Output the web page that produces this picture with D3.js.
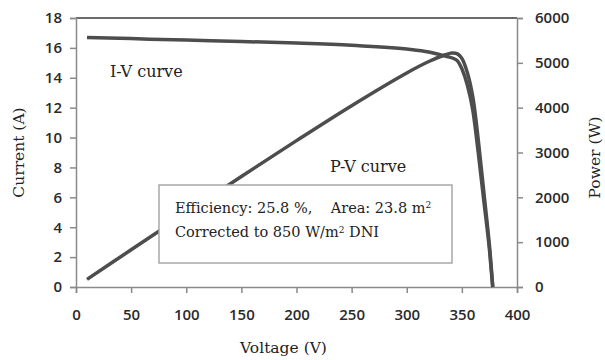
<!DOCTYPE html>
<html>
<head>
<meta charset="utf-8">
<script src="https://cdn.jsdelivr.net/npm/d3@7"></script>
<style>
  body { margin: 0; background: #fff; }
  .tick text { font-family: "Open Sans", sans-serif; font-weight: 600; font-size: 15px; fill: #2a2a2a; }
  .serif { font-family: "DejaVu Serif", serif; fill: #222; white-space: pre; }
</style>
</head>
<body>
<div id="chart"></div>
<script>
var svgWidth = 605;
var svgHeight = 360;

var margin = { top: 18, right: 88, bottom: 73, left: 76 };

var width = svgWidth - margin.left - margin.right;
var height = svgHeight - margin.top - margin.bottom;

// values
var ivVoltage = [10, 50, 100, 150, 200, 250, 300, 320, 335, 345, 350, 355, 360, 365, 370, 375, 378];
var ivCurrent = [16.7, 16.62, 16.52, 16.43, 16.32, 16.17, 15.92, 15.72, 15.45, 15.2, 14.6, 13.5, 11.8, 8.9, 5.7, 2.5, 0];

var pvVoltage = [10, 50, 100, 150, 200, 250, 300, 320, 335, 341, 346, 350, 355, 360, 365, 370, 375, 378];
var pvPower = [170, 830, 1650, 2465, 3265, 4045, 4775, 5030, 5180, 5220, 5200, 5100, 4780, 4230, 3250, 2100, 930, 0];

var xTicks = [0, 50, 100, 150, 200, 250, 300, 350, 400];
var leftTicks = [0, 2, 4, 6, 8, 10, 12, 14, 16, 18];
var rightTicks = [0, 1000, 2000, 3000, 4000, 5000, 6000];

var svg = d3.select("#chart")
  .append("svg")
  .attr("width", svgWidth)
  .attr("height", svgHeight);

var chartGroup = svg.append("g")
  .attr("transform", `translate(${margin.left}, ${margin.top})`);

var xScale = d3.scaleLinear().domain([0, 400]).range([0, width]);
var yLeft = d3.scaleLinear().domain([0, 18]).range([height, 0]);
var yRight = d3.scaleLinear().domain([0, 6000]).range([height, 0]);

var axisColor = "#8a8a8a";

// top border
chartGroup.append("line")
  .attr("x1", 0).attr("x2", width)
  .attr("y1", 0).attr("y2", 0)
  .attr("stroke", "#3a3a3a")
  .attr("stroke-width", 1.5);

// axes
var bottomAxis = d3.axisBottom(xScale).tickValues(xTicks).tickSize(6).tickPadding(16);
var leftAxis = d3.axisLeft(yLeft).tickValues(leftTicks).tickSize(6).tickPadding(8);
var rightAxis = d3.axisRight(yRight).tickValues(rightTicks).tickSize(6).tickPadding(12)
  .tickFormat(d3.format("d"));

function styleAxis(g) {
  g.select(".domain").attr("stroke", axisColor).attr("stroke-width", 1.5);
  g.selectAll(".tick line").attr("stroke", axisColor).attr("stroke-width", 1.5);
}

chartGroup.append("g")
  .attr("transform", `translate(0, ${height})`)
  .call(bottomAxis)
  .call(styleAxis);

chartGroup.append("g")
  .call(leftAxis)
  .call(styleAxis);

chartGroup.append("g")
  .attr("transform", `translate(${width}, 0)`)
  .call(rightAxis)
  .call(styleAxis);

// curves
var ivLine = d3.line()
  .x((d, i) => xScale(ivVoltage[i]))
  .y(d => yLeft(d))
  .curve(d3.curveMonotoneX);

var pvLine = d3.line()
  .x((d, i) => xScale(pvVoltage[i]))
  .y(d => yRight(d))
  .curve(d3.curveCatmullRom);

chartGroup.append("path")
  .datum(ivCurrent)
  .attr("d", ivLine)
  .attr("fill", "none")
  .attr("stroke", "#4d4d4d")
  .attr("stroke-width", 3.5);

chartGroup.append("path")
  .datum(pvPower)
  .attr("d", pvLine)
  .attr("fill", "none")
  .attr("stroke", "#4d4d4d")
  .attr("stroke-width", 3.5);

// curve labels
chartGroup.append("text")
  .attr("class", "serif")
  .attr("x", 34).attr("y", 59)
  .style("font-size", "16px")
  .text("I-V curve");

chartGroup.append("text")
  .attr("class", "serif")
  .attr("x", 254).attr("y", 154)
  .style("font-size", "16px")
  .text("P-V curve");

// info box
var box = chartGroup.append("g").attr("transform", "translate(83, 167)");
box.append("rect")
  .attr("width", 293).attr("height", 78)
  .attr("fill", "#fff")
  .attr("stroke", "#a8a8a8")
  .attr("stroke-width", 1.5);

var line1 = box.append("text")
  .attr("class", "serif")
  .attr("x", 16).attr("y", 28)
  .style("font-size", "14.5px");
line1.append("tspan").text("Efficiency: 25.8 %,    Area: 23.8 m");
line1.append("tspan").attr("dy", -5).style("font-size", "9px").text("2");

var line2 = box.append("text")
  .attr("class", "serif")
  .attr("x", 16).attr("y", 52)
  .style("font-size", "14.5px");
line2.append("tspan").text("Corrected to 850 W/m");
line2.append("tspan").attr("dy", -4).style("font-size", "9px").text("2");
line2.append("tspan").attr("dy", 4).text(" DNI");

// axis titles
chartGroup.append("text")
  .attr("class", "serif")
  .attr("transform", `translate(${width / 2 - 13}, ${height + 66})`)
  .attr("text-anchor", "middle")
  .style("font-size", "15.5px")
  .text("Voltage (V)");

chartGroup.append("text")
  .attr("class", "serif")
  .attr("transform", `translate(-52, ${height / 2}) rotate(-90)`)
  .attr("text-anchor", "middle")
  .style("font-size", "15.5px")
  .text("Current (A)");

chartGroup.append("text")
  .attr("class", "serif")
  .attr("transform", `translate(${width + 83}, ${height / 2 + 5}) rotate(-90)`)
  .attr("text-anchor", "middle")
  .style("font-size", "15.5px")
  .text("Power (W)");
</script>
</body>
</html>
